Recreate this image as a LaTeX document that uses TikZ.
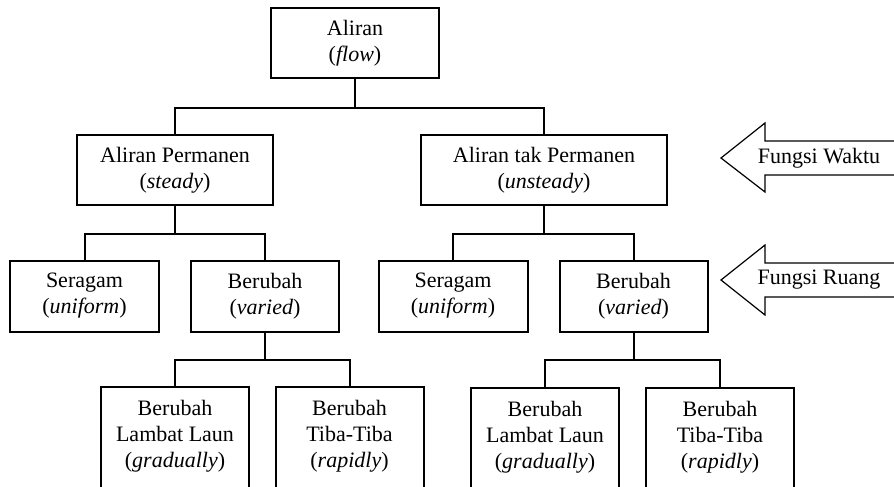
\documentclass[tikz,border=0pt]{standalone}
\usepackage{fontspec}
\setmainfont{Liberation Serif}
\begin{document}
\begin{tikzpicture}[x=1pt, y=-1pt,
    kotak/.style={draw, line width=2pt, align=center, inner sep=0pt, font=\fontsize{22}{26}\selectfont},
    kotakbawah/.style={kotak, anchor=north, minimum width=148, inner sep=13pt, text depth=80pt},
    teks/.style={font=\fontsize{22}{26}\selectfont},
    garis/.style={line width=2pt},
    panah/.style={line width=1.2pt}]
  \useasboundingbox (0,0) rectangle (894,487);
  \clip (0,0) rectangle (894,487);

  % tingkat 1
  \node[kotak, minimum width=168, minimum height=70] (aliran) at (355,43) {Aliran\\(\textit{flow})};

  % tingkat 2
  \node[kotak, minimum width=196, minimum height=70] (permanen) at (175,170) {Aliran Permanen\\(\textit{steady})};
  \node[kotak, minimum width=246, minimum height=70] (takpermanen) at (544,170) {Aliran tak Permanen\\(\textit{unsteady})};

  % tingkat 3
  \node[kotak, minimum width=149, minimum height=71] (seragamA) at (84.5,296) {Seragam\\(\textit{uniform})};
  \node[kotak, minimum width=148, minimum height=71] (berubahA) at (265,296) {Berubah\\(\textit{varied})};
  \node[kotak, minimum width=149, minimum height=71] (seragamB) at (453,296) {Seragam\\(\textit{uniform})};
  \node[kotak, minimum width=148, minimum height=71] (berubahB) at (633.5,296) {Berubah\\(\textit{varied})};

  % tingkat 4
  \node[kotakbawah] (lambatA) at (175,386) {Berubah\\Lambat Laun\\(\textit{gradually})};
  \node[kotakbawah] (tibaA) at (349.5,386) {Berubah\\Tiba-Tiba\\(\textit{rapidly})};
  \node[kotakbawah] (lambatB) at (545,387) {Berubah\\Lambat Laun\\(\textit{gradually})};
  \node[kotakbawah] (tibaB) at (720,387) {Berubah\\Tiba-Tiba\\(\textit{rapidly})};

  % garis penghubung
  \draw[garis] (aliran.south) -- ++(0,29) -| (permanen.north);
  \draw[garis] (aliran.south) -- ++(0,29) -| (takpermanen.north);
  \draw[garis] (permanen.south) -- ++(0,28) -| (seragamA.north);
  \draw[garis] (permanen.south) -- ++(0,28) -| (berubahA.north);
  \draw[garis] (takpermanen.south) -- ++(0,28) -| (seragamB.north);
  \draw[garis] (takpermanen.south) -- ++(0,28) -| (berubahB.north);
  \draw[garis] (berubahA.south) -- ++(0,27) -| (lambatA.north);
  \draw[garis] (berubahA.south) -- ++(0,27) -| (tibaA.north);
  \draw[garis] (berubahB.south) -- ++(0,27) -| (lambatB.north);
  \draw[garis] (berubahB.south) -- ++(0,27) -| (tibaB.north);

  % panah fungsi
  \draw[panah] (900,141) -- (765,141) -- (765,123) -- (721,158) -- (765,192) -- (765,175) -- (900,175);
  \node[teks] (waktu) at (819,158) {Fungsi Waktu};
  \draw[panah] (900,263) -- (765,263) -- (765,245) -- (721,280) -- (765,315) -- (765,297) -- (900,297);
  \node[teks] (ruang) at (819,280) {Fungsi Ruang};
\end{tikzpicture}
\end{document}
